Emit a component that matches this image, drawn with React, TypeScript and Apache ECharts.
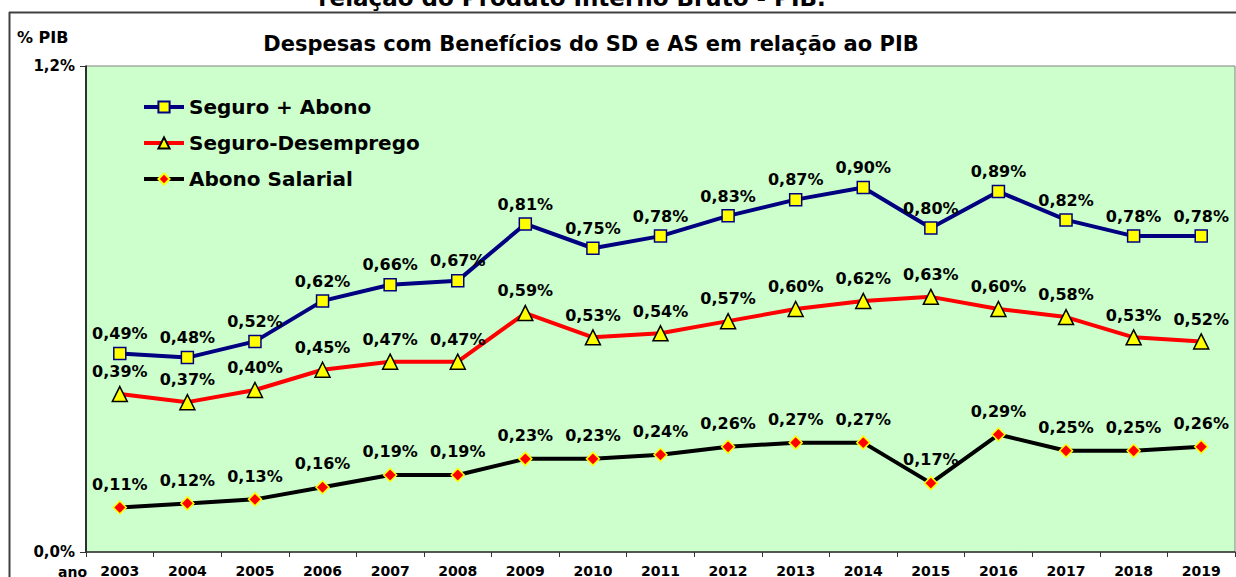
import React, { useEffect, useRef } from "react";
import * as echarts from "echarts";

const years = ["2003", "2004", "2005", "2006", "2007", "2008", "2009", "2010", "2011", "2012", "2013", "2014", "2015", "2016", "2017", "2018", "2019"];
const seguroAbono = [0.49, 0.48, 0.52, 0.62, 0.66, 0.67, 0.81, 0.75, 0.78, 0.83, 0.87, 0.90, 0.80, 0.89, 0.82, 0.78, 0.78];
const seguroDesemprego = [0.39, 0.37, 0.40, 0.45, 0.47, 0.47, 0.59, 0.53, 0.54, 0.57, 0.60, 0.62, 0.63, 0.60, 0.58, 0.53, 0.52];
const abonoSalarial = [0.11, 0.12, 0.13, 0.16, 0.19, 0.19, 0.23, 0.23, 0.24, 0.26, 0.27, 0.27, 0.17, 0.29, 0.25, 0.25, 0.26];
const seriesNames = ["Seguro + Abono", "Seguro-Desemprego", "Abono Salarial"];
const seriesColors = ["#000080", "#ff0000", "#000000"];
const yTicks = [0, 1.2];

const FONT = "DejaVu Sans";
const fmt = (v: number, d: number) => v.toFixed(d).replace(".", ",") + "%";

export default function App() {
  const ref = useRef<HTMLDivElement>(null);
  useEffect(() => {
    document.body.style.margin = "0";
    const chart = echarts.init(ref.current!, undefined, { renderer: "svg" });
    const label = (dist: number) => ({
      show: true,
      position: "top",
      distance: dist,
      formatter: (p: any) => fmt(p.value, 2),
      fontFamily: FONT,
      fontWeight: "bold",
      fontSize: 16,
      color: "#000",
    });
    chart.setOption({
      animation: false,
      backgroundColor: "#ffffff",
      textStyle: { fontFamily: FONT },
      grid: {
        left: 86,
        right: 1,
        top: 66,
        bottom: 25,
        containLabel: false,
        outerBoundsMode: "none",
        show: true,
        backgroundColor: "#ccffcc",
        borderColor: "#808080",
        borderWidth: 1,
      },
      legend: {
        orient: "vertical",
        left: 142,
        top: 96,
        padding: 0,
        itemWidth: 40,
        itemHeight: 14,
        itemGap: 14,
        data: seriesNames.map((n, i) => ({ name: n, lineStyle: { width: 4, color: seriesColors[i] } })),
        textStyle: { fontFamily: FONT, fontWeight: "bold", fontSize: 20, color: "#000", lineHeight: 22 },
      },
      xAxis: {
        type: "category",
        data: years,
        boundaryGap: true,
        axisLine: { show: true, lineStyle: { color: "#333", width: 1.5 } },
        axisTick: { show: true, length: 5, alignWithLabel: false, lineStyle: { color: "#333" } },
        axisLabel: { fontFamily: FONT, fontWeight: "bold", fontSize: 14, color: "#000", margin: 12 },
        splitLine: { show: false },
      },
      yAxis: {
        type: "value",
        min: yTicks[0],
        max: yTicks[1],
        interval: 1.2,
        axisLine: { show: true, lineStyle: { color: "#000", width: 1.5 } },
        axisTick: { show: true, length: 6, lineStyle: { color: "#333" } },
        axisLabel: { fontFamily: FONT, fontWeight: "bold", fontSize: 15, color: "#000", margin: 11, formatter: (v: number) => fmt(v, 1) },
        splitLine: { show: false },
      },
      graphic: [
        { type: "line", shape: { x1: 9, y1: 12.5, x2: 1236, y2: 12.5 }, style: { stroke: "#404040", lineWidth: 2 } },
        { type: "line", shape: { x1: 9.5, y1: 12, x2: 9.5, y2: 577 }, style: { stroke: "#404040", lineWidth: 2 } },
        {
          type: "text", x: 572, y: -2,
          style: { text: "relação do Produto Interno Bruto - PIB.", fontFamily: FONT, fontWeight: "bold", fontSize: 23, fill: "#000", align: "center", verticalAlign: "middle" },
        },
        {
          type: "text", x: 591, y: 44,
          style: { text: "Despesas com Benefícios do SD e AS em relação ao PIB", fontFamily: FONT, fontWeight: "bold", fontSize: 21, fill: "#000", align: "center", verticalAlign: "middle" },
        },
        {
          type: "text", x: 17, y: 37,
          style: { text: "% PIB", fontFamily: FONT, fontWeight: "bold", fontSize: 16, fill: "#000", align: "left", verticalAlign: "middle" },
        },
        {
          type: "text", x: 58, y: 572,
          style: { text: "ano", fontFamily: FONT, fontWeight: "bold", fontSize: 14, fill: "#000", align: "left", verticalAlign: "middle" },
        },
      ],
      series: [
        {
          name: seriesNames[0],
          type: "line",
          data: seguroAbono,
          symbol: "rect",
          symbolSize: 12,
          lineStyle: { color: seriesColors[0], width: 4 },
          itemStyle: { color: "#ffff00", borderColor: "#000080", borderWidth: 1.5 },
          label: label(5),
          z: 3,
        },
        {
          name: seriesNames[1],
          type: "line",
          data: seguroDesemprego,
          symbol: "triangle",
          symbolSize: 15,
          lineStyle: { color: seriesColors[1], width: 4 },
          itemStyle: { color: "#ffff00", borderColor: "#000000", borderWidth: 1.5 },
          label: label(6),
          z: 3,
        },
        {
          name: seriesNames[2],
          type: "line",
          data: abonoSalarial,
          symbol: "diamond",
          symbolSize: 13,
          lineStyle: { color: seriesColors[2], width: 4 },
          itemStyle: { color: "#ff0000", borderColor: "#ffff00", borderWidth: 1.5 },
          label: label(8),
          z: 3,
        },
      ],
    });
    return () => chart.dispose();
  }, []);
  return <div ref={ref} style={{ width: 1236, height: 577 }} />;
}
